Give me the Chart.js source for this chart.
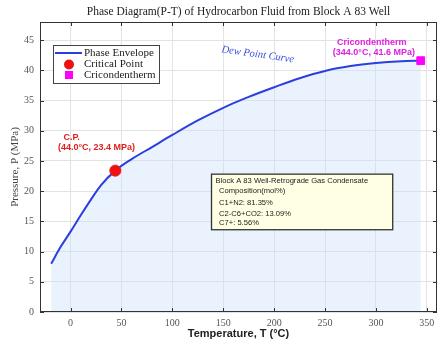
<!DOCTYPE html>
<html>
<head>
<meta charset="utf-8">
<script src="https://cdn.jsdelivr.net/npm/chart.js@4.4.1/dist/chart.umd.min.js"></script>
<style>
  html, body { margin: 0; padding: 0; background: #fff; }
  #wrap { width: 438px; height: 343px; }
</style>
</head>
<body>
<div id="wrap"><canvas id="pt"></canvas></div>
<script>
// Phase envelope (T in °C, P in MPa)
const temps = [-19, -10, 0, 10, 20, 30, 44, 60, 80, 100, 125, 150, 175, 200, 225, 250, 275, 300, 325, 344];
const pressures = [8.0, 10.7, 13.3, 16.0, 18.6, 21.0, 23.4, 25.3, 27.3, 29.3, 31.7, 33.8, 35.6, 37.2, 38.7, 39.9, 40.7, 41.2, 41.5, 41.6];

const critPoint = { T: 44.0, P: 23.4 };
const cricondentherm = { T: 344.0, P: 41.6 };

const xTicks = [0, 50, 100, 150, 200, 250, 300, 350];
const yTicks = [0, 5, 10, 15, 20, 25, 30, 35, 40, 45];

const composition = [
  'Block A 83 Well-Retrograde Gas Condensate',
  'Composition(mol%)',
  'C1+N2: 81.35%',
  'C2-C6+CO2: 13.09%',
  'C7+: 5.56%'
];

const blue = '#2b3fe0';
const red = '#ee1111';
const magenta = '#ff00ff';
const serif = '"Liberation Serif", "DejaVu Serif", serif';
const sans = '"Liberation Sans", Arial, sans-serif';

const envelope = temps.map((t, i) => ({ x: t, y: pressures[i] }));

// annotations, legend, inside ticks and the box frame
const extras = {
  id: 'extras',
  afterDraw(chart) {
    const ctx = chart.ctx;
    const xs = chart.scales.x, ys = chart.scales.y;
    const a = chart.chartArea;
    const px = v => xs.getPixelForValue(v);
    const py = v => ys.getPixelForValue(v);

    ctx.save();
    // frame + inward ticks
    ctx.strokeStyle = '#333';
    ctx.lineWidth = 1;
    ctx.strokeRect(a.left + 0.5, a.top + 0.5, a.right - a.left - 1, a.bottom - a.top - 1);
    ctx.beginPath();
    xTicks.forEach(t => {
      const x = Math.round(px(t)) + 0.5;
      ctx.moveTo(x, a.bottom); ctx.lineTo(x, a.bottom - 4);
      ctx.moveTo(x, a.top); ctx.lineTo(x, a.top + 4);
    });
    yTicks.forEach(t => {
      const y = Math.round(py(t)) + 0.5;
      ctx.moveTo(a.left, y); ctx.lineTo(a.left + 4, y);
      ctx.moveTo(a.right, y); ctx.lineTo(a.right - 4, y);
    });
    ctx.stroke();

    // legend
    const lx = a.left + 13, ly = a.top + 23;
    ctx.fillStyle = '#fff';
    ctx.fillRect(lx, ly, 106, 38);
    ctx.strokeStyle = '#444';
    ctx.lineWidth = 1;
    ctx.strokeRect(lx + 0.5, ly + 0.5, 106, 38);
    ctx.strokeStyle = blue;
    ctx.lineWidth = 2;
    ctx.beginPath();
    ctx.moveTo(lx + 2, ly + 8); ctx.lineTo(lx + 29, ly + 8);
    ctx.stroke();
    ctx.fillStyle = red;
    ctx.beginPath();
    ctx.arc(lx + 16, ly + 19.5, 5, 0, Math.PI * 2);
    ctx.fill();
    ctx.fillStyle = magenta;
    ctx.fillRect(lx + 12, ly + 26, 8, 8);
    ctx.fillStyle = '#222';
    ctx.font = '11px ' + serif;
    ctx.textBaseline = 'middle';
    ctx.textAlign = 'left';
    ctx.fillText('Phase Envelope', lx + 31, ly + 8);
    ctx.fillText('Critical Point', lx + 31, ly + 19.5);
    ctx.fillText('Cricondentherm', lx + 31, ly + 30.5);

    // C.P. label
    ctx.fillStyle = '#e02020';
    ctx.font = 'bold 9px ' + sans;
    ctx.textAlign = 'center';
    ctx.fillText('C.P.', px(1), py(28.8));
    ctx.fillText('(' + critPoint.T.toFixed(1) + '°C, ' + critPoint.P.toFixed(1) + ' MPa)', px(25.5), py(27.2));

    // cricondentherm label
    ctx.fillStyle = '#e020e0';
    ctx.fillText('Cricondentherm', px(296), py(44.6));
    ctx.fillText('(' + cricondentherm.T.toFixed(1) + '°C, ' + cricondentherm.P.toFixed(1) + ' MPa)', px(298), py(43.0));

    // dew point curve label
    ctx.save();
    ctx.translate(px(184), py(42.6));
    ctx.rotate(8 * Math.PI / 180);
    ctx.fillStyle = '#3a50d8';
    ctx.font = 'italic 10.5px ' + serif;
    ctx.fillText('Dew Point Curve', 0, 0);
    ctx.restore();

    // composition box
    const bx = px(138), by = py(22.9), bw = px(316) - px(138), bh = py(13.7) - py(22.9);
    ctx.fillStyle = '#ffffe4';
    ctx.fillRect(bx, by, bw, bh);
    ctx.strokeStyle = '#333';
    ctx.lineWidth = 1.3;
    ctx.strokeRect(bx + 0.5, by + 0.5, bw, bh);
    ctx.fillStyle = '#222';
    ctx.textAlign = 'left';
    ctx.font = '7.6px ' + sans;
    const rows = [7.5, 17.5, 29, 40, 49];
    composition.forEach((s, i) => {
      ctx.fillText(s, bx + (i === 0 ? 4.5 : 8), by + rows[i]);
    });
    ctx.restore();
  }
};

new Chart(document.getElementById('pt'), {
  type: 'scatter',
  data: {
    datasets: [
      {
        label: 'Phase Envelope',
        data: envelope,
        order: 2,
        showLine: true,
        borderColor: blue,
        borderWidth: 2,
        pointRadius: 0,
        cubicInterpolationMode: 'monotone',
        fill: 'origin',
        backgroundColor: 'rgba(200, 222, 250, 0.4)'
      },
      {
        label: 'Critical Point',
        data: [{ x: critPoint.T, y: critPoint.P }],
        order: 0,
        pointStyle: 'circle',
        pointRadius: 5.5,
        backgroundColor: red,
        borderColor: red
      },
      {
        label: 'Cricondentherm',
        data: [{ x: cricondentherm.T, y: cricondentherm.P }],
        order: 0,
        pointStyle: 'rect',
        pointRadius: 5.5,
        backgroundColor: magenta,
        borderColor: magenta
      }
    ]
  },
  options: {
    responsive: true,
    maintainAspectRatio: false,
    animation: false,
    layout: { autoPadding: false, padding: { left: 0, right: 1, top: 0, bottom: 0 } },
    plugins: {
      legend: { display: false },
      tooltip: { enabled: false },
      title: {
        display: true,
        fullSize: false,
        text: 'Phase Diagram(P-T) of Hydrocarbon Fluid from Block A 83 Well',
        color: '#222',
        font: { family: serif, size: 11.5, weight: 'normal', lineHeight: 1.2 },
        padding: { top: 5, bottom: 3.2 }
      }
    },
    scales: {
      x: {
        type: 'linear',
        min: -30,
        max: 360,
        afterBuildTicks: s => { s.ticks = xTicks.map(v => ({ value: v })); },
        afterFit: s => { s.height = 31; s.paddingLeft = 0; s.paddingRight = 0; },
        grid: { color: '#e3e3e3', drawTicks: false },
        border: { display: false },
        ticks: { color: '#555', font: { family: serif, size: 10 }, padding: 5 },
        title: {
          display: true,
          text: 'Temperature, T (°C)',
          color: '#222',
          font: { family: sans, size: 11, weight: 'bold' },
          padding: { top: 0, bottom: 2 }
        }
      },
      y: {
        min: 0,
        max: 48,
        afterBuildTicks: s => { s.ticks = yTicks.map(v => ({ value: v })); },
        afterFit: s => { s.width = 40; s.paddingTop = 0; s.paddingBottom = 0; },
        grid: { color: '#e3e3e3', drawTicks: false },
        border: { display: false },
        ticks: { color: '#555', font: { family: serif, size: 10 }, padding: 6 },
        title: {
          display: true,
          text: 'Pressure, P (MPa)',
          color: '#444',
          font: { family: serif, size: 11 },
          padding: { top: 9, bottom: 0 }
        }
      }
    }
  },
  plugins: [extras]
});
</script>
</body>
</html>
